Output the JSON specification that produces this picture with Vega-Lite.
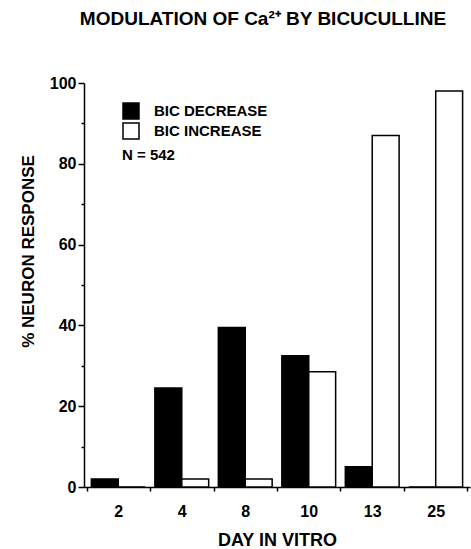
{
  "$schema": "https://vega.github.io/schema/vega-lite/v6.json",
  "width": 386,
  "height": 404,
  "autosize": "none",
  "padding": {"left": 84, "top": 83, "right": 1, "bottom": 62},
  "background": "white",
  "config": {
    "view": {"stroke": null},
    "font": "Liberation Sans",
    "axis": {
      "labelFont": "Liberation Sans",
      "titleFont": "Liberation Sans",
      "labelFontWeight": "bold",
      "titleFontWeight": "bold",
      "labelColor": "black",
      "titleColor": "black",
      "domainColor": "black",
      "tickColor": "black",
      "grid": false
    },
    "legend": {
      "labelFont": "Liberation Sans",
      "titleFont": "Liberation Sans"
    }
  },
  "title": {
    "text": "MODULATION OF Ca²⁺  BY BICUCULLINE",
    "fontSize": 19,
    "font": "Liberation Sans",
    "fontWeight": "bold",
    "color": "black",
    "anchor": "middle",
    "offset": 46,
    "dx": -14
  },
  "data": {
    "values": [
      {"day": "2", "response": "BIC DECREASE", "pct": 2},
      {"day": "2", "response": "BIC INCREASE", "pct": 0},
      {"day": "4", "response": "BIC DECREASE", "pct": 24.5},
      {"day": "4", "response": "BIC INCREASE", "pct": 2},
      {"day": "8", "response": "BIC DECREASE", "pct": 39.5},
      {"day": "8", "response": "BIC INCREASE", "pct": 2},
      {"day": "10", "response": "BIC DECREASE", "pct": 32.5},
      {"day": "10", "response": "BIC INCREASE", "pct": 28.5},
      {"day": "13", "response": "BIC DECREASE", "pct": 5},
      {"day": "13", "response": "BIC INCREASE", "pct": 87},
      {"day": "25", "response": "BIC DECREASE", "pct": 0},
      {"day": "25", "response": "BIC INCREASE", "pct": 98}
    ]
  },
  "mark": {"type": "bar", "stroke": "black", "strokeWidth": 1.5},
  "encoding": {
    "x": {
      "field": "day",
      "type": "ordinal",
      "sort": ["2", "4", "8", "10", "13", "25"],
      "scale": {"paddingInner": 0, "paddingOuter": 0.04},
      "axis": {
        "title": "DAY IN VITRO",
        "labelAngle": 0,
        "tickBand": "extent",
        "tickSize": 4,
        "tickWidth": 1.5,
        "labelPadding": 12,
        "labelFontSize": 16,
        "titleFontSize": 18,
        "titlePadding": 12,
        "domainWidth": 1.5
      }
    },
    "xOffset": {
      "field": "response",
      "sort": ["BIC DECREASE", "BIC INCREASE"],
      "scale": {"paddingOuter": 0.18, "paddingInner": 0}
    },
    "y": {
      "field": "pct",
      "type": "quantitative",
      "scale": {"domain": [0, 100], "nice": false},
      "axis": {
        "title": "% NEURON RESPONSE",
        "values": [0, 10, 20, 30, 40, 50, 60, 70, 80, 90, 100],
        "labelExpr": "datum.value % 20 === 0 ? datum.label : ''",
        "tickSize": {"condition": {"test": "datum.value % 20 === 0", "value": 6}, "value": 3},
        "tickWidth": 1.5,
        "labelPadding": 2,
        "labelFontSize": 16,
        "titleFontSize": 17,
        "titlePadding": 12,
        "titleY": 168,
        "domainWidth": 1.5
      }
    },
    "fill": {
      "field": "response",
      "type": "nominal",
      "scale": {"domain": ["BIC DECREASE", "BIC INCREASE"], "range": ["black", "white"]},
      "legend": {
        "title": "N = 542",
        "titleOrient": "bottom",
        "titleAnchor": "start",
        "titleAlign": "left",
        "titleFontSize": 15,
        "titleFontWeight": "bold",
        "titleColor": "black",
        "titlePadding": 6,
        "orient": "none",
        "legendX": 38,
        "legendY": 19,
        "symbolType": "square",
        "symbolSize": 256,
        "symbolStrokeColor": "black",
        "symbolStrokeWidth": 1.5,
        "labelFontSize": 15,
        "labelFontWeight": "bold",
        "labelColor": "black",
        "labelOffset": 14,
        "rowPadding": -10
      }
    }
  }
}
